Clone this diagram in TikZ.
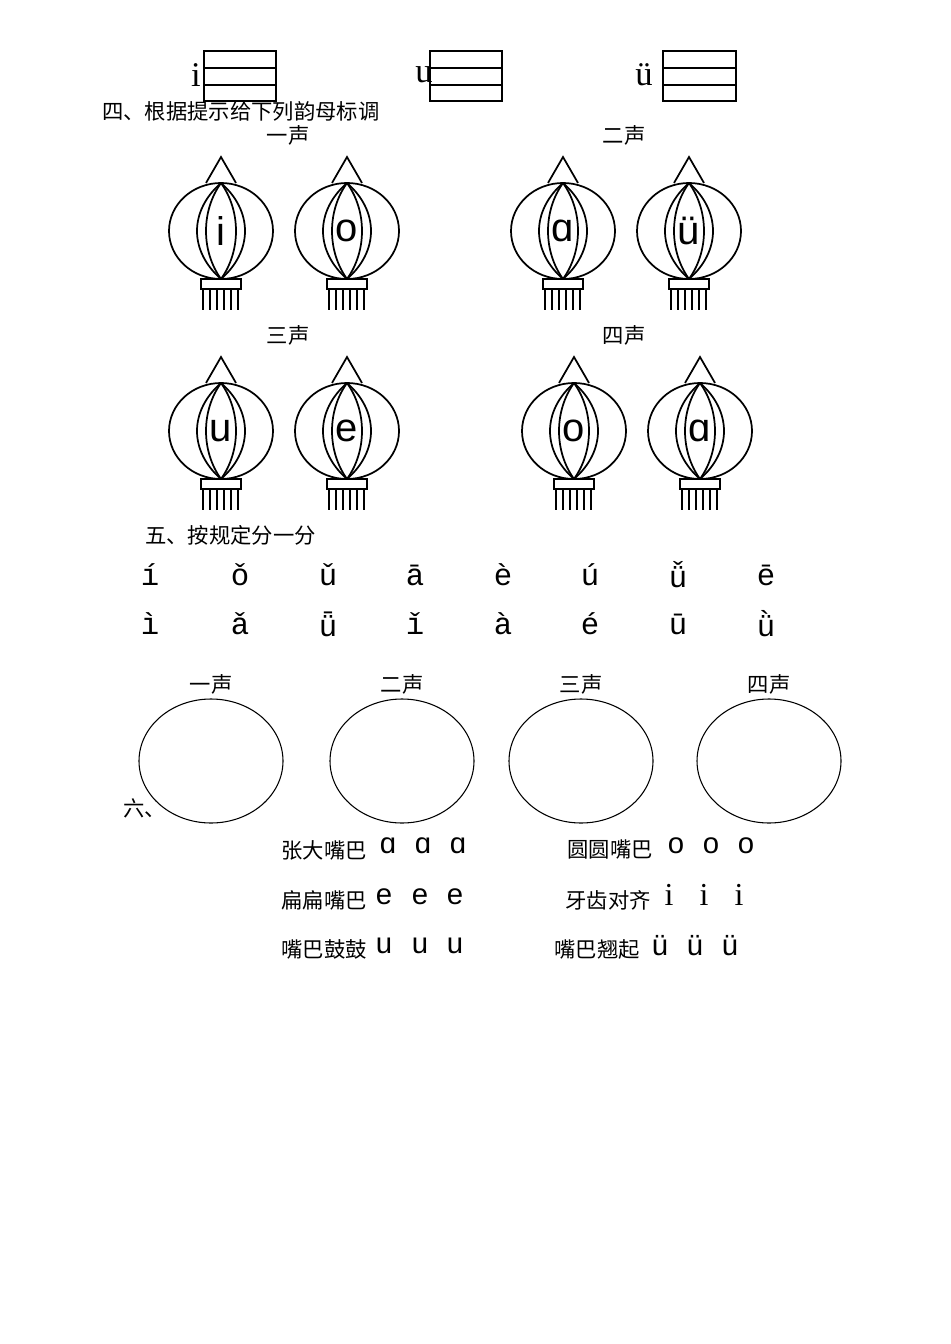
\documentclass[tikz,border=0pt]{standalone}
\usepackage{fontspec}
\newfontfamily\cjk{Noto Sans CJK SC}
\newfontfamily\lsans{Liberation Sans}
\newfontfamily\lmono{Liberation Mono}
\newfontfamily\lserif{Liberation Serif}
\tikzset{
 zh/.style={font=\cjk\fontsize{16}{16}\selectfont,inner sep=0pt},
 py/.style={font=\lmono\fontsize{23}{23}\selectfont,inner sep=0pt},
 big/.style={font=\lsans\fontsize{30}{30}\selectfont,inner sep=0pt},
 sp/.style={font=\lsans\fontsize{22}{22}\selectfont,inner sep=0pt},
 lw/.style={line width=1.3pt},
}
\newcommand{\lantern}[3]{%
 \begin{scope}[shift={(#1,#2)}]
  \draw[lw] (-15,-48) -- (0,-74) -- (15,-48);
  \draw[lw] (0,0) ellipse [x radius=52,y radius=48];
  \draw[lw] (0,-48) .. controls (-32,-20) and (-32,20) .. (0,48);
  \draw[lw] (0,-48) .. controls (32,-20) and (32,20) .. (0,48);
  \draw[lw] (0,-48) .. controls (-20,-20) and (-20,20) .. (0,48);
  \draw[lw] (0,-48) .. controls (20,-20) and (20,20) .. (0,48);
  \draw[lw] (-20,48) rectangle (20,58);
  \foreach \k in {-18,-11,-4,3,10,17} \draw[lw] (\k,58) -- (\k,79);
  \node[big] (L#1#2) at (0,0) {#3};
 \end{scope}}
\begin{document}
\begin{tikzpicture}[x=0.75pt,y=-0.75pt]
\useasboundingbox (0,0) rectangle (950,1344);
% top row
\foreach \t/\xa/\xb/\xc in {i/196/204/276, u/424/430/502, ü/644/663/736}{
 \node[font=\lserif\fontsize{26}{26}\selectfont,inner sep=0pt] at (\xa,75) {\t};
 \draw[line width=0.8pt] (\xb,51) rectangle (\xc,101);
 \draw[line width=0.8pt] (\xb,68) -- (\xc,68) (\xb,85) -- (\xc,85);
}
\node[zh,anchor=west] (t4) at (102,111) {四、根据提示给下列韵母标调};
\node[zh] (s1) at (288,135) {一声};
\node[zh] (s2) at (624,135) {二声};
\node[zh] (s3) at (288,335) {三声};
\node[zh] (s4) at (624,335) {四声};
\lantern{221}{231}{i}
\lantern{347}{231}{o}
\lantern{563}{231}{ɑ}
\lantern{689}{231}{ü}
\lantern{221}{431}{u}
\lantern{347}{431}{e}
\lantern{574}{431}{o}
\lantern{700}{431}{ɑ}
% section 5
\node[zh,anchor=west] (t5) at (145,535) {五、按规定分一分};
\foreach \a/\b/\x in {í/ì/150, ǒ/ǎ/240, ǔ/ǖ/328, ā/ǐ/415, è/à/503, ú/é/590, ǚ/ū/678, ē/ǜ/766}{
 \node[py] at (\x,575) {\a};
 \node[py] at (\x,624) {\b};
}
\node[zh,anchor=west] (t6) at (123,808) {六、};
\foreach \x/\lab in {211/一声, 402/二声, 581/三声, 769/四声}{
 \node[zh] at (\x,684) {\lab};
 \draw[line width=0.8pt,fill=white] (\x,761) ellipse [x radius=72,y radius=62];
}
% section 6 rows
\node[zh,anchor=east] at (367,850) {张大嘴巴};
\node[zh,anchor=east] at (367,900) {扁扁嘴巴};
\node[zh,anchor=east] at (367,949) {嘴巴鼓鼓};
\node[zh,anchor=east] at (653,850) {圆圆嘴巴};
\node[zh,anchor=east] at (651,900) {牙齿对齐};
\node[zh,anchor=east] at (640,949) {嘴巴翘起};
\foreach \x in {388,423,458} \node[sp] at (\x,846) {ɑ};
\foreach \x in {384,420,455} \node[sp] at (\x,897) {e};
\foreach \x in {384,420,455} \node[sp] at (\x,946) {u};
\foreach \x in {676,711,746} \node[sp] at (\x,846) {o};
\foreach \x in {669,704,739} \node[font=\lserif\fontsize{24}{24}\selectfont,inner sep=0pt] at (\x,895) {i};
\foreach \x in {660,695,730} \node[sp] at (\x,946) {ü};
\end{tikzpicture}
\end{document}
